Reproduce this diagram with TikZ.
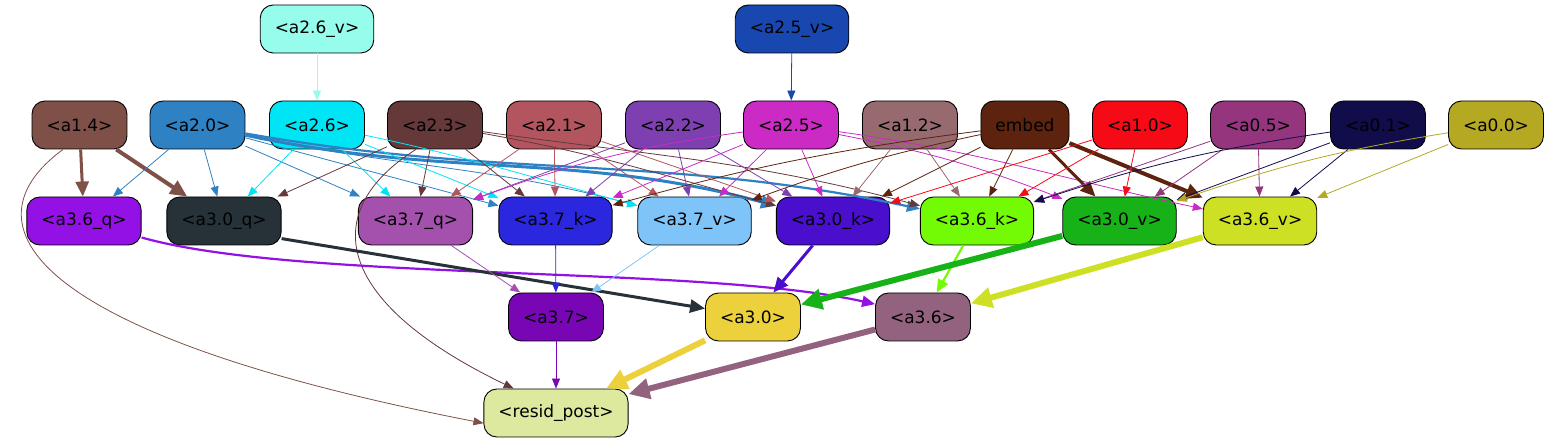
\documentclass[tikz,border=0pt]{standalone}
\usepackage{fontspec}
\setmainfont{DejaVu Sans}
\usetikzlibrary{arrows.meta}
\definecolor{cA14}{HTML}{7E5048}
\definecolor{cA20}{HTML}{2E81C3}
\definecolor{cA26}{HTML}{00E5F5}
\definecolor{cA23}{HTML}{65383A}
\definecolor{cA21}{HTML}{B2555F}
\definecolor{cA22}{HTML}{7E40B0}
\definecolor{cA25}{HTML}{CB2AC4}
\definecolor{cA12}{HTML}{976A70}
\definecolor{cEm}{HTML}{5D230F}
\definecolor{cA10}{HTML}{F50A16}
\definecolor{cA05}{HTML}{95357E}
\definecolor{cA01}{HTML}{110C4A}
\definecolor{cA00}{HTML}{B5A822}
\definecolor{cA26v}{HTML}{96FDEC}
\definecolor{cA25v}{HTML}{1847B0}
\definecolor{cA36q}{HTML}{9411E6}
\definecolor{cA30q}{HTML}{263237}
\definecolor{cA37q}{HTML}{A451AE}
\definecolor{cA37k}{HTML}{2A27DE}
\definecolor{cA37v}{HTML}{7FC4F8}
\definecolor{cA30k}{HTML}{4A0FCC}
\definecolor{cA36k}{HTML}{72FB05}
\definecolor{cA30v}{HTML}{17B218}
\definecolor{cA36v}{HTML}{CEE024}
\definecolor{cA37}{HTML}{7806B5}
\definecolor{cA30}{HTML}{ECD13C}
\definecolor{cA36}{HTML}{92627F}
\definecolor{cRes}{HTML}{DCE99F}
\tikzset{
  nd/.style={draw=black, line width=0.9pt, rounded corners=13pt, minimum height=48pt,
    inner xsep=14.5pt, inner ysep=0pt, font=\fontsize{17}{20}\selectfont, text=black},
  ed/.style={line width=0.8pt, -{Triangle[length=10pt,width=8pt]}},
  wa/.style={line width=2.2pt, -{Triangle[length=13pt,width=11pt]}},
  wb/.style={line width=3pt, -{Triangle[length=15pt,width=13pt]}},
  wc/.style={line width=4pt, -{Triangle[length=17pt,width=15pt]}},
  wd/.style={line width=6pt, -{Triangle[length=21pt,width=20pt]}},
}
\begin{document}
\begin{tikzpicture}[x=1pt,y=-1pt]
\useasboundingbox (0,0) rectangle (1548,443);
% row 0
\node[nd, fill=cA26v] (a26v) at (317,29) {<a2.6\_v>};
\node[nd, fill=cA25v] (a25v) at (792,29) {<a2.5\_v>};
% row 1
\node[nd, fill=cA14] (a14) at (79.5,125) {<a1.4>};
\node[nd, fill=cA20] (a20) at (197.5,125) {<a2.0>};
\node[nd, fill=cA26] (a26) at (317,125) {<a2.6>};
\node[nd, fill=cA23] (a23) at (435,125) {<a2.3>};
\node[nd, fill=cA21] (a21) at (554,125) {<a2.1>};
\node[nd, fill=cA22] (a22) at (673,125) {<a2.2>};
\node[nd, fill=cA25] (a25) at (791,125) {<a2.5>};
\node[nd, fill=cA12] (a12) at (910,125) {<a1.2>};
\node[nd, fill=cEm] (emb) at (1025,125) {embed};
\node[nd, fill=cA10] (a10) at (1140,125) {<a1.0>};
\node[nd, fill=cA05] (a05) at (1258,125) {<a0.5>};
\node[nd, fill=cA01] (a01) at (1378,125) {<a0.1>};
\node[nd, fill=cA00] (a00) at (1496,125) {<a0.0>};
% row 2
\node[nd, fill=cA36q] (a36q) at (84,221) {<a3.6\_q>};
\node[nd, fill=cA30q] (a30q) at (224,221) {<a3.0\_q>};
\node[nd, fill=cA37q] (a37q) at (415.5,221) {<a3.7\_q>};
\node[nd, fill=cA37k] (a37k) at (555.5,221) {<a3.7\_k>};
\node[nd, fill=cA37v] (a37v) at (694.5,221) {<a3.7\_v>};
\node[nd, fill=cA30k] (a30k) at (833,221) {<a3.0\_k>};
\node[nd, fill=cA36k] (a36k) at (977,221) {<a3.6\_k>};
\node[nd, fill=cA30v] (a30v) at (1119.5,221) {<a3.0\_v>};
\node[nd, fill=cA36v] (a36v) at (1260,221) {<a3.6\_v>};
% row 3
\node[nd, fill=cA37] (a37) at (556,317) {<a3.7>};
\node[nd, fill=cA30] (a30) at (753,317) {<a3.0>};
\node[nd, fill=cA36] (a36) at (923,317) {<a3.6>};
% row 4
\node[nd, fill=cRes] (res) at (556,413) {<resid\_post>};

% edges row0 -> row1
\draw[ed, cA26v] (a26v) -- (a26);
\draw[ed, cA25v] (a25v) -- (a25);
% a1.4
\draw[wb, cA14] (a14) -- (a36q);
\draw[wc, cA14] (a14) -- (a30q);
\draw[ed, cA14] (a14.236) .. controls (-40,225) and (30,335) .. (res.188);
% a2.0
\draw[ed, cA20] (a20) -- (a36q);
\draw[ed, cA20] (a20) -- (a30q);
\draw[ed, cA20] (a20) -- (a37q);
\draw[ed, cA20] (a20) -- (a37k);
\draw[ed, cA20] (a20) to[out=-12,in=165] (a37v);
\draw[wb, cA20] (a20) to[out=-12,in=165] (a30k);
\draw[wa, cA20] (a20) to[out=-10,in=168] (a36k);
% a2.6
\draw[ed, cA26] (a26) -- (a30q);
\draw[ed, cA26] (a26) -- (a37q);
\draw[ed, cA26] (a26) -- (a37k);
\draw[ed, cA26] (a26) to[out=-12,in=165] (a37v);
% a2.3
\draw[ed, cA23] (a23) -- (a30q);
\draw[ed, cA23] (a23) -- (a37q);
\draw[ed, cA23] (a23) -- (a37k);
\draw[ed, cA23] (a23) to[out=-10,in=165] (a30k);
\draw[ed, cA23] (a23) to[out=-8,in=165] (a36k);
\draw[ed, cA23] (a23.232) .. controls (320,210) and (330,300) .. (res.150);
% a2.1
\draw[ed, cA21] (a21) -- (a37q);
\draw[ed, cA21] (a21) -- (a37k);
\draw[ed, cA21] (a21) -- (a37v);
\draw[ed, cA21] (a21) -- (a30k);
% a2.2
\draw[ed, cA22] (a22) -- (a37q);
\draw[ed, cA22] (a22) -- (a37k);
\draw[ed, cA22] (a22) -- (a37v);
\draw[ed, cA22] (a22) -- (a30k);
% a2.5
\draw[ed, cA25] (a25) to[bend right=6] (a37q);
\draw[ed, cA25] (a25) -- (a37k);
\draw[ed, cA25] (a25) -- (a37v);
\draw[ed, cA25] (a25) -- (a30k);
\draw[ed, cA25] (a25) to[bend left=5] (a30v);
\draw[ed, cA25] (a25) to[out=-8,in=168] (a36v);
% a1.2
\draw[ed, cA12] (a12) -- (a30k);
\draw[ed, cA12] (a12) -- (a36k);
% embed
\draw[ed, cEm] (emb) to[bend right=4] (a37k);
\draw[ed, cEm] (emb) to[bend right=4] (a37v);
\draw[ed, cEm] (emb) -- (a30k);
\draw[ed, cEm] (emb) -- (a36k);
\draw[wb, cEm] (emb) -- (a30v);
\draw[wc, cEm] (emb) -- (a36v);
% a1.0
\draw[ed, cA10] (a10) -- (a30k);
\draw[ed, cA10] (a10) -- (a36k);
\draw[ed, cA10] (a10) -- (a30v);
% a0.5
\draw[ed, cA05] (a05) -- (a36k);
\draw[ed, cA05] (a05) -- (a30v);
\draw[ed, cA05] (a05) -- (a36v);
% a0.1
\draw[ed, cA01] (a01) to[bend right=5] (a36k);
\draw[ed, cA01] (a01) -- (a30v);
\draw[ed, cA01] (a01) -- (a36v);
% a0.0
\draw[ed, cA00] (a00) to[bend right=5] (a30v);
\draw[ed, cA00] (a00) -- (a36v);
% row2 -> row3
\draw[wa, cA36q] (a36q.-16) .. controls (300,282) and (700,265) .. (a36.165);
\draw[wb, cA30q] (a30q.-17) -- (a30.170);
\draw[ed, cA37q] (a37q) -- (a37);
\draw[ed, cA37k] (a37k) -- (a37);
\draw[ed, cA37v] (a37v) -- (a37);
\draw[wb, cA30k] (a30k) -- (a30);
\draw[wa, cA36k] (a36k) -- (a36);
\draw[wd, cA30v] (a30v) -- (a30);
\draw[wd, cA36v] (a36v) -- (a36);
% row3 -> resid
\draw[ed, cA37] (a37) -- (res);
\draw[wd, cA30] (a30) -- (res);
\draw[wd, cA36] (a36) -- (res);
\end{tikzpicture}
\end{document}
